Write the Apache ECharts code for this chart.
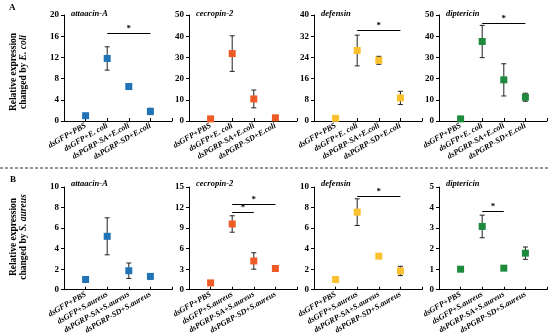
<!DOCTYPE html>
<html>
<head>
<meta charset="utf-8">
<script src="https://cdn.jsdelivr.net/npm/echarts@6/dist/echarts.min.js"></script>
<style>html,body{margin:0;padding:0;background:#fff}#c{width:550px;height:336px}</style>
</head>
<body>
<div id="c"></div>
<script>
// ---- data ----
const catsA = ['dsGFP+PBS', 'dsGFP+E. coli', 'dsPGRP-SA+E.coli', 'dsPGRP-SD+E.coli'];
const catsB = ['dsGFP+PBS', 'dsGFP+S.aureus', 'dsPGRP-SA+S.aureus', 'dsPGRP-SD+S.aureus'];
const genes = ['attaacin-A', 'cecropin-2', 'defensin', 'diptericin'];
const colors = ['#2173B8', '#EE5A24', '#FBC02D', '#1E8A3C'];

// Row A (E. coli)
const attacinE = [1.0, 11.8, 6.5, 1.8];
const attacinEErr = [0.1, 2.2, 0.4, 0.6];
const cecropinE = [1.0, 31.8, 10.4, 1.5];
const cecropinEErr = [0.1, 8.4, 4.2, 0];
const defensinE = [1.0, 26.6, 22.9, 8.7];
const defensinEErr = [0.1, 5.8, 1.5, 2.5];
const diptericinE = [1.0, 37.5, 19.4, 11.2];
const diptericinEErr = [0.1, 7.6, 7.6, 1.9];

// Row B (S. aureus)
const attacinS = [1.0, 5.2, 1.85, 1.3];
const attacinSErr = [0.05, 1.8, 0.75, 0.25];
const cecropinS = [1.0, 9.6, 4.2, 3.1];
const cecropinSErr = [0.05, 1.2, 1.2, 0.1];
const defensinS = [1.0, 7.55, 3.27, 1.83];
const defensinSErr = [0.05, 1.3, 0.1, 0.45];
const diptericinS = [1.0, 3.08, 1.05, 1.78];
const diptericinSErr = [0.02, 0.55, 0.08, 0.3];

// axis max / interval per panel
const yMaxA = [20, 50, 40, 50];
const yStepA = [4, 10, 8, 10];
const yMaxB = [10, 15, 10, 5];
const yStepB = [2, 3, 2, 1];

// significance brackets: [fromIndex, toIndex, yValue]
const sigA = [[[1, 3, 16.5]], [], [[1, 3, 34.1]], [[1, 3, 46]]];
const sigB = [[], [[1, 2, 11.3], [1, 3, 12.5]], [[1, 3, 9.1]], [[1, 2, 3.83]]];

// ---- build ----
const FF = '"Liberation Serif", "Times New Roman", serif';
const rows = [
  { cats: catsA, vals: [attacinE, cecropinE, defensinE, diptericinE], errs: [attacinEErr, cecropinEErr, defensinEErr, diptericinEErr], max: yMaxA, step: yStepA, sig: sigA, top: 15, height: 106, titleTop: 4 },
  { cats: catsB, vals: [attacinS, cecropinS, defensinS, diptericinS], errs: [attacinSErr, cecropinSErr, defensinSErr, diptericinSErr], max: yMaxB, step: yStepB, sig: sigB, top: 187, height: 104, titleTop: 174 }
];

const option = { animation: false, grid: [], xAxis: [], yAxis: [], series: [], title: [], graphic: [] };

rows.forEach((row, r) => {
  for (let p = 0; p < 4; p++) {
    const idx = r * 4 + p;
    const left = 64 + 125 * p;
    option.grid.push({ left: left, width: 108, top: row.top, height: row.height });
    option.xAxis.push({
      type: 'category', gridIndex: idx, data: [''].concat(row.cats).concat(['']), boundaryGap: false,
      axisLine: { lineStyle: { color: '#000', width: 1 } },
      axisTick: { inside: true, length: 3, lineStyle: { color: '#000' } },
      axisLabel: { rotate: 30, interval: 0, fontSize: 8, fontStyle: 'italic', fontWeight: 'bold', fontFamily: FF, color: '#000', margin: 4 }
    });
    option.yAxis.push({
      type: 'value', gridIndex: idx, min: 0, max: row.max[p], interval: row.step[p],
      axisLine: { show: true, lineStyle: { color: '#000', width: 1 } },
      axisTick: { show: true, length: 3, lineStyle: { color: '#000' } },
      splitLine: { show: false },
      axisLabel: { fontSize: 9, fontWeight: 'bold', fontFamily: FF, color: '#000', margin: 5 }
    });
    option.title.push({
      text: genes[p], left: left + 2, top: row.titleTop,
      textStyle: { fontSize: 8.5, fontStyle: 'italic', fontWeight: 'bold', fontFamily: FF, color: '#000' }
    });
    const vals = row.vals[p], errs = row.errs[p];
    option.series.push({
      type: 'custom', xAxisIndex: idx, yAxisIndex: idx, z: 2, silent: true,
      data: vals.map((v, i) => [row.cats[i], v, errs[i]]),
      renderItem: function (params, api) {
        const x = api.value(0), y = api.value(1), e = api.value(2);
        if (!e) return null;
        const t = api.coord([x, y + e]), b = api.coord([x, y - e]);
        const hw = 2.5;
        const st = { stroke: '#222', lineWidth: 1 };
        return { type: 'group', children: [
          { type: 'line', shape: { x1: t[0], y1: t[1], x2: b[0], y2: b[1] }, style: st },
          { type: 'line', shape: { x1: t[0] - hw, y1: t[1], x2: t[0] + hw, y2: t[1] }, style: st },
          { type: 'line', shape: { x1: b[0] - hw, y1: b[1], x2: b[0] + hw, y2: b[1] }, style: st }
        ] };
      }
    });
    option.series.push({
      type: 'scatter', xAxisIndex: idx, yAxisIndex: idx, z: 3, silent: true,
      symbol: 'rect', symbolSize: 7, itemStyle: { color: colors[p], opacity: 1 },
      data: vals.map((v, i) => [row.cats[i], v]),
      markLine: {
        silent: true, symbol: 'none', animation: false,
        lineStyle: { color: '#000', width: 1, type: 'solid' },
        label: { show: true, position: 'middle', formatter: '*', fontSize: 9, fontWeight: 'bold', fontFamily: FF, color: '#000', distance: 0 },
        labelLayout: { hideOverlap: false },
        emphasis: { disabled: true },
        data: row.sig[p].map(s => [{ coord: [row.cats[s[0]], s[2]] }, { coord: [row.cats[s[1]], s[2]] }])
      }
    });
  }
});

option.graphic = [
  { type: 'text', left: 9, top: 3, style: { text: 'A', font: 'bold 9px ' + FF, fill: '#000' } },
  { type: 'text', left: 10, top: 175, style: { text: 'B', font: 'bold 9px ' + FF, fill: '#000' } },
  { type: 'line', shape: { x1: 0, y1: 168, x2: 550, y2: 168 }, style: { stroke: '#333', lineWidth: 1, lineDash: [3, 2] } },
  { type: 'text', x: 19, y: 72, rotation: Math.PI / 2,
    style: { text: 'Relative expression\nchanged by {i|E. coli}', font: 'bold 9.5px ' + FF, fill: '#000', align: 'center', verticalAlign: 'middle', lineHeight: 10,
      rich: { i: { fontStyle: 'italic', fontWeight: 'bold', fontSize: 9.5, fontFamily: FF } } } },
  { type: 'text', x: 19, y: 237, rotation: Math.PI / 2,
    style: { text: 'Relative expression\nchanged by {i|S. aureus}', font: 'bold 9.5px ' + FF, fill: '#000', align: 'center', verticalAlign: 'middle', lineHeight: 10,
      rich: { i: { fontStyle: 'italic', fontWeight: 'bold', fontSize: 9.5, fontFamily: FF } } } }
];

const chart = echarts.init(document.getElementById('c'), null, { renderer: 'canvas' });
chart.setOption(option);
</script>
</body>
</html>
